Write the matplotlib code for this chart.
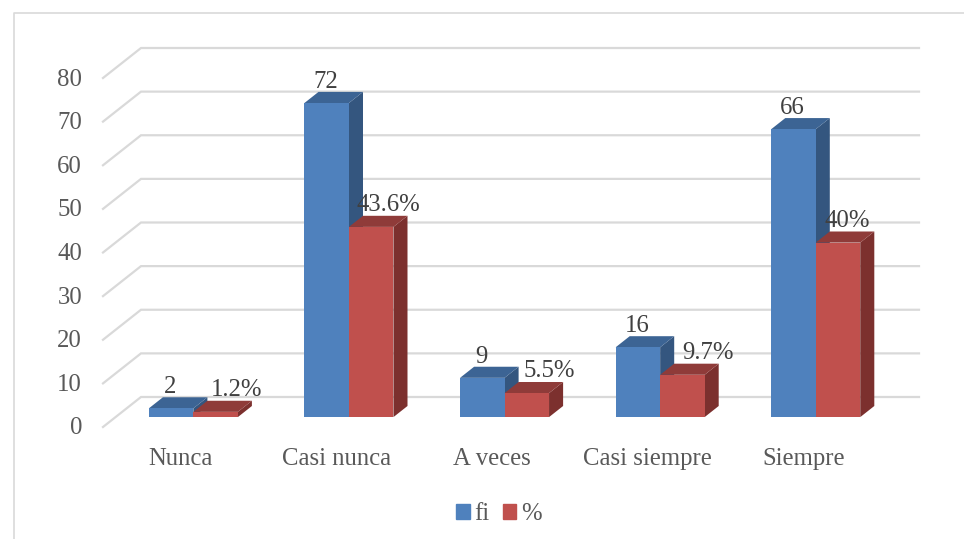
import matplotlib.pyplot as plt
from matplotlib.lines import Line2D
from matplotlib.patches import Patch
from matplotlib.transforms import ScaledTranslation

categories = ["Nunca", "Casi nunca", "A veces", "Casi siempre", "Siempre"]
fi_values = [2, 72, 9, 16, 66]
pct_values = [1.2, 43.6, 5.5, 9.7, 40]
pct_labels = ["1.2%", "43.6%", "5.5%", "9.7%", "40%"]
y_ticks = [0, 10, 20, 30, 40, 50, 60, 70, 80]

# nudges for the % labels, in pixels
pct_label_dx = [21, 17, 22, 26, 9]

plt.rcParams["font.family"] = ["Liberation Serif", "DejaVu Serif"]

W, H = 964, 539
fig = plt.figure(figsize=(W / 100, H / 100), dpi=100, facecolor="white")
ax = fig.add_axes([103 / W, (H - 427) / H, 778 / W, 349 / H])
ax.set_xlim(-0.5, 4.5)
ax.set_ylim(0, 80)

grid_color = "#D9D9D9"
text_color = "#595959"
label_color = "#404040"
font_size = 17.8

# fake 3D depth of the chart box, in data units
depth_x = 38 / (778 / 5)
depth_y = 30 / (349 / 80)
bar_width = 44.5 / (778 / 5)
bar_start = 0.33
bar_end = 0.70

# back wall lines and the floor/side diagonals
for t in y_ticks:
    ax.plot([-0.5, -0.5 + depth_x, 4.5 + depth_x], [t, t + depth_y, t + depth_y],
            color=grid_color, lw=1.6, clip_on=False, zorder=1, solid_joinstyle="miter")


def draw_bar(x, val, front, top, side):
    # x is the left edge of the front face
    x0 = x + depth_x * bar_start
    y0 = depth_y * bar_start
    ddx = depth_x * (bar_end - bar_start)
    ddy = depth_y * (bar_end - bar_start)
    x1 = x0 + bar_width
    y1 = y0 + val
    ax.fill([x1, x1 + ddx, x1 + ddx, x1], [y0, y0 + ddy, y1 + ddy, y1],
            color=side, lw=0, clip_on=False, zorder=3)
    ax.fill([x0, x1, x1 + ddx, x0 + ddx], [y1, y1, y1 + ddy, y1 + ddy],
            color=top, lw=0, clip_on=False, zorder=3)
    ax.fill([x0, x1, x1, x0], [y0, y0, y1, y1],
            color=front, lw=0, clip_on=False, zorder=3)
    return x0 + bar_width / 2, y1


for i, cat in enumerate(categories):
    cx, cy = draw_bar(i - bar_width, fi_values[i], "#4F81BD", "#3C6494", "#34567F")
    ax.annotate(str(fi_values[i]), (cx, cy), xytext=(-1 * 0.72, 21 * 0.72), textcoords="offset points",
                ha="center", va="center", fontsize=font_size, color=label_color, zorder=5,
                annotation_clip=False)
    cx, cy = draw_bar(i, pct_values[i], "#C0504D", "#8F3B39", "#7C302E")
    ax.annotate(pct_labels[i], (cx, cy), xytext=(pct_label_dx[i] * 0.72, 22 * 0.72),
                textcoords="offset points", ha="center", va="center", fontsize=font_size,
                color=label_color, zorder=5, annotation_clip=False)

ax.set_xticks(range(len(categories)))
ax.set_xticklabels(categories, fontsize=font_size, color=text_color)
ax.set_yticks(y_ticks)
ax.set_yticklabels([str(t) for t in y_ticks], fontsize=font_size, color=text_color)
ax.tick_params(axis="x", length=0, pad=15)
ax.tick_params(axis="y", length=0, pad=15)
for spine in ax.spines.values():
    spine.set_visible(False)

# y labels sit slightly above their gridlines
lift = ScaledTranslation(0, 1 / 100, fig.dpi_scale_trans)
for label in ax.get_yticklabels():
    label.set_transform(label.get_transform() + lift)

handles = [Patch(color="#4F81BD", label="fi"), Patch(color="#C0504D", label="%")]
fig.legend(handles=handles, loc="center", bbox_to_anchor=(499 / W, (H - 514) / H), ncol=2,
           frameon=False, fontsize=font_size, labelcolor=text_color, handlelength=0.55,
           handleheight=0.55, handletextpad=0.2, columnspacing=0.52)

# outer chart border
fig.add_artist(Line2D([14 / W, 14 / W, 1], [0, (H - 13) / H, (H - 13) / H],
                      color=grid_color, lw=1.2))

fig.savefig("out.png", dpi=100)
